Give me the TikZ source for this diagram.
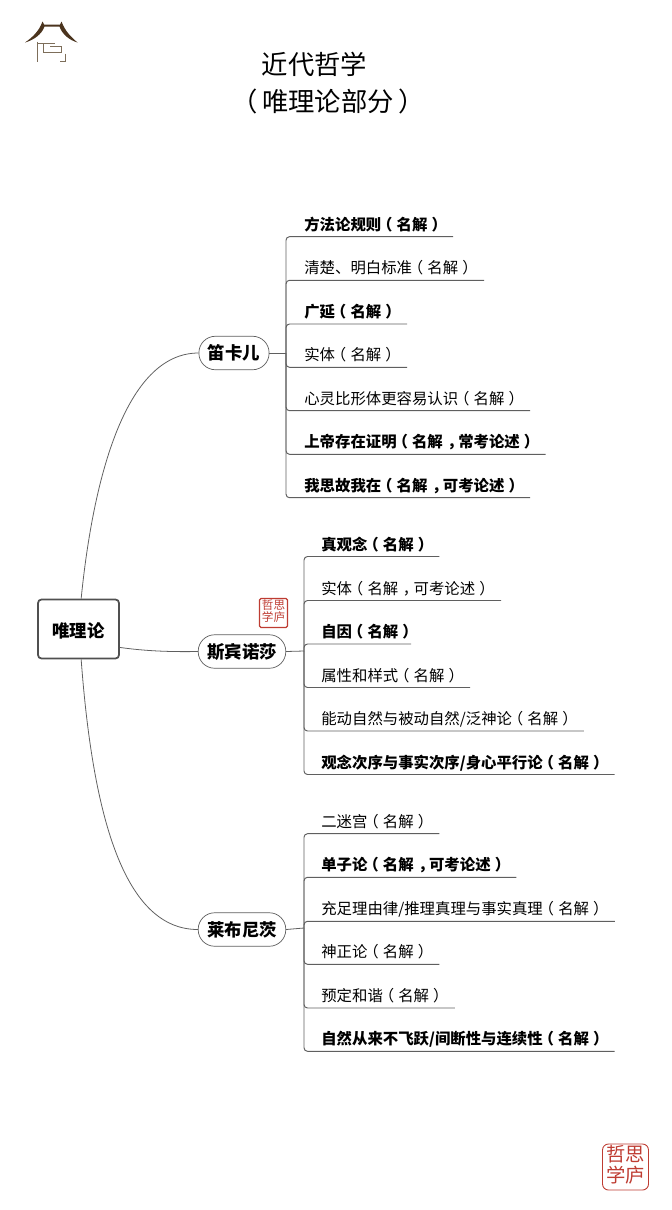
\documentclass[tikz,border=0pt]{standalone}
\usepackage{fontspec}
\setmainfont{Noto Sans CJK SC}
\usetikzlibrary{positioning}
\definecolor{lineGray}{RGB}{95, 95, 95}
\definecolor{rootGray}{RGB}{80, 80, 80}
\definecolor{sealRed}{RGB}{190, 60, 50}
\definecolor{roofBrown}{RGB}{75, 52, 30}
\definecolor{wallBrown}{RGB}{125, 110, 90}
% centred punctuation, as the mind map prints it
\newcommand{\lp}{\kern-0.27em（\kern0.27em}
\newcommand{\rp}{\kern0.27em）\kern-0.27em}
\newcommand{\tlp}{\kern-0.16em（\kern0.16em}
\newcommand{\trp}{\kern0.16em）\kern-0.16em}
\newcommand{\cm}{\kern0.3em，\kern-0.3em}

\begin{document}
\begin{tikzpicture}[x=0.02cm, y=-0.02cm,
  titlel/.style={font=\fontsize{15pt}{16pt}\selectfont, inner sep=0pt},
  rootbox/.style={rectangle, draw=rootGray, line width=1pt, rounded corners=0.07cm, fill=white,
                  minimum width=1.62cm, minimum height=1.18cm,
                  text height=0.38cm, text depth=0.032cm,
                  font=\fontsize{9.9pt}{12pt}\selectfont\bfseries},
  thinker/.style={rectangle, draw=lineGray, line width=0.4pt, rounded corners=0.33cm, fill=white,
                  minimum height=0.67cm, inner xsep=0.18cm,
                  text height=0.31cm, text depth=0.032cm,
                  font=\fontsize{9.9pt}{12pt}\selectfont\bfseries},
  leaf/.style={anchor=south west, inner xsep=0.2cm, inner ysep=0pt,
               text height=0.3cm, text depth=0.12cm,
               font=\fontsize{8.76pt}{10pt}\selectfont},
  leafb/.style={leaf, font=\fontsize{8.76pt}{10pt}\selectfont\bfseries},
  link/.style={draw=lineGray, line width=0.45pt},
  twig/.style={draw=lineGray, line width=0.55pt, rounded corners=0.07cm},
  seal/.style={rectangle, draw=sealRed, align=center, text=sealRed, inner sep=0pt},
]
  \useasboundingbox (0,0) rectangle (672,1210);

  % Logo
  \fill[roofBrown] (25,42.5) .. controls (33,37) and (39,31) .. (42.5,21.5) -- (44,24.5)
    -- (60,24.5) -- (61.5,21.5) .. controls (65,31) and (71,37) .. (77.5,42.5)
    .. controls (69,40) and (62,34) .. (59.5,26.5) -- (44.5,26.5) .. controls (42,34) and (34,40) .. (25,42.5) -- cycle;
  \draw[wallBrown, line width=0.7pt] (37.7,41.7) -- (37.7,61.7);
  \draw[wallBrown, line width=0.5pt] (37.7,43) -- (55,43) (43.3,43) -- (43.3,52.7) -- (61.7,52.7) -- (61.7,46.7) -- (50,46.7);
  \draw[wallBrown, line width=0.5pt] (65,53.5) -- (65,61.7) -- (59.5,61.7);

  % Title
  \node[titlel] (title)  at (314.5,64.5) {近代哲学};
  \node[titlel] (titleb) at (328,101.5) {\tlp 唯理论部分\trp};

  % Seals
  \node[seal, line width=0.7pt, rounded corners=0.03cm, minimum width=0.56cm, minimum height=0.58cm,
        font=\fontsize{6.6pt}{7.4pt}\selectfont] (sealA) at (273.5,613)
    {\begin{tabular}{@{}c@{\hspace{0pt}}c@{}}哲&思\\[-1pt]学&庐\end{tabular}};
  \node[seal, line width=0.5pt, rounded corners=0.12cm, minimum width=0.92cm, minimum height=0.92cm,
        font=\fontsize{11pt}{12pt}\selectfont] (sealB) at (625.5,1167)
    {\begin{tabular}{@{}c@{\hspace{0pt}}c@{}}哲&思\\[-1pt]学&庐\end{tabular}};

  % Root and thinkers
  \node[rootbox] (root) at (78.5,629) {唯理论};
  \node[thinker] (dk) at (234,353) {笛卡儿};
  \node[thinker] (sp) at (242,651.5) {斯宾诺莎};
  \node[thinker] (lb) at (242,929.5) {莱布尼茨};

  \draw[link] (root.85) .. controls (93,480) and (125,353) .. (dk.west);
  \draw[link] (root.-24) .. controls (145,651) and (170,652) .. (sp.west);
  \draw[link] (root.-85) .. controls (93,819) and (125,929.5) .. (lb.west);

  % Hubs
  \coordinate (dkhub) at (286,353);
  \coordinate (sphub) at (304,651);
  \coordinate (lbhub) at (304,928);
  \draw[link] (dk.east) -- (dkhub);
  \draw[link] (sp.east) -- (sphub);
  \draw[link] (lb.east) -- (lbhub);

  % Descartes
  \node[leafb] (d1) at (294,236.7) {方法论规则\lp 名解\rp};
  \node[leaf]  (d2) at (294,280.3) {清楚、明白标准\lp 名解\rp};
  \node[leafb] (d3) at (294,324)   {广延\lp 名解\rp};
  \node[leaf]  (d4) at (294,367.3) {实体\lp 名解\rp};
  \node[leaf]  (d5) at (294,410.7) {心灵比形体更容易认识\lp 名解\rp};
  \node[leafb] (d6) at (294,454.3) {上帝存在证明\lp 名解\cm 常考论述\rp};
  \node[leafb] (d7) at (294,497.7) {我思故我在\lp 名解\cm 可考论述\rp};
  \foreach \n in {d1,d2,d3,d4,d5,d6,d7} {
    \draw[twig] (dkhub) |- (\n.south east);
  }

  % Spinoza
  \node[leafb] (s1) at (311,556.5) {真观念\lp 名解\rp};
  \node[leaf]  (s2) at (311,600.5) {实体\lp 名解\cm 可考论述\rp};
  \node[leafb] (s3) at (311,644)   {自因\lp 名解\rp};
  \node[leaf]  (s4) at (311,687.5) {属性和样式\lp 名解\rp};
  \node[leaf]  (s5) at (311,731)   {能动自然与被动自然/泛神论\lp 名解\rp};
  \node[leafb] (s6) at (311,774.5) {观念次序与事实次序/身心平行论\lp 名解\rp};
  \foreach \n in {s1,s2,s4,s5,s6} {
    \draw[twig] (sphub) |- (\n.south east);
  }
  \draw[twig] (sphub) |- ([xshift=-0.26cm]s3.south east);

  % Leibniz
  \node[leaf]  (l1) at (311,833.7)  {二迷宫\lp 名解\rp};
  \node[leafb] (l2) at (311,877.3)  {单子论\lp 名解\cm 可考论述\rp};
  \node[leaf]  (l3) at (311,921.3)  {充足理由律/推理真理与事实真理\lp 名解\rp};
  \node[leaf]  (l4) at (311,964.3)  {神正论\lp 名解\rp};
  \node[leaf]  (l5) at (311,1008)   {预定和谐\lp 名解\rp};
  \node[leafb] (l6) at (311,1051.3) {自然从来不飞跃/间断性与连续性\lp 名解\rp};
  \foreach \n in {l1,l2,l3,l4,l5,l6} {
    \draw[twig] (lbhub) |- (\n.south east);
  }

\end{tikzpicture}
\end{document}
